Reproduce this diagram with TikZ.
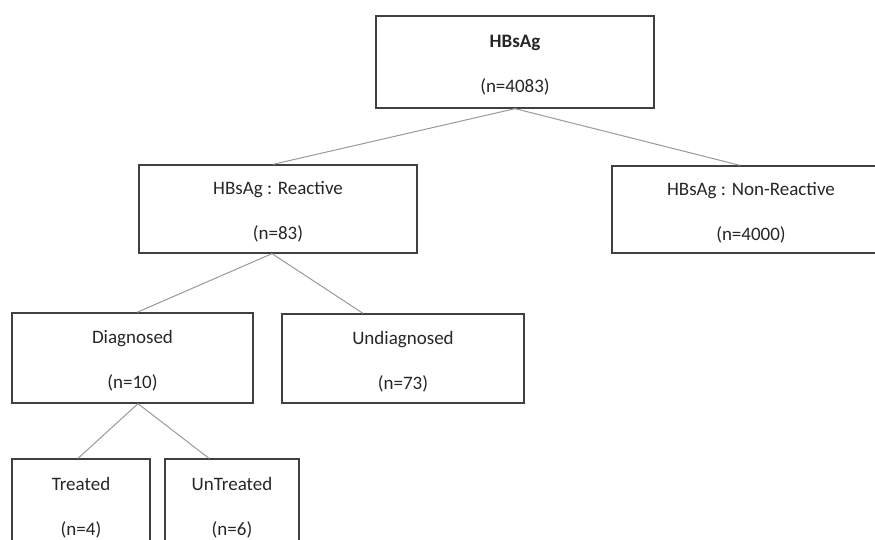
\documentclass[tikz,border=0pt]{standalone}
\usepackage{fontspec}
\setmainfont{Carlito}
\begin{document}
\begin{tikzpicture}[x=1pt,y=-1pt,
  box/.style={draw=black!75, line width=1.3pt, rectangle, inner sep=0pt, align=center,
    font=\fontsize{19}{23}\selectfont, text=black!85, text height=65pt, text depth=4pt},
  conn/.style={draw=black!40, line width=1pt}]
\useasboundingbox (0,0) rectangle (875,539);
\node[box, minimum width=278pt, minimum height=92pt] (top) at (515,62) {\textbf{HBsAg}\\[22pt](n=4083)};
\node[box, minimum width=278pt, minimum height=88pt] (re) at (278,209) {HBsAg : Reactive\\[22pt](n=83)};
\node[box, minimum width=278pt, minimum height=87pt] (nr) at (751,209.5) {HBsAg : Non-Reactive\\[22pt](n=4000)};
\node[box, minimum width=241pt, minimum height=90pt] (dg) at (132.5,358) {Diagnosed\\[22pt](n=10)};
\node[box, minimum width=242pt, minimum height=89pt] (ud) at (403,358.5) {Undiagnosed\\[22pt](n=73)};
\node[box, minimum width=138pt, minimum height=92pt] (tr) at (81,505) {Treated\\[22pt](n=4)};
\node[box, minimum width=134pt, minimum height=92pt] (ut) at (232,505) {UnTreated\\[22pt](n=6)};
\draw[conn] (top.south) -- ([xshift=-5pt]re.north);
\draw[conn] (top.south) -- ([xshift=-11pt]nr.north);
\draw[conn] ([xshift=-6pt]re.south) -- ([xshift=4.5pt]dg.north);
\draw[conn] ([xshift=-6pt]re.south) -- ([xshift=-40pt]ud.north);
\draw[conn] ([xshift=5.5pt]dg.south) -- ([xshift=-3pt]tr.north);
\draw[conn] ([xshift=5.5pt]dg.south) -- ([xshift=-23pt]ut.north);
\end{tikzpicture}
\end{document}
